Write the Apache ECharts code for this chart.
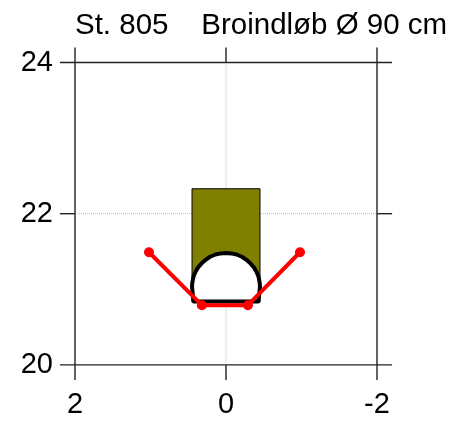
<!DOCTYPE html>
<html>
<head>
<meta charset="utf-8">
<style>html,body{margin:0;background:#fff}#chart{width:452px;height:423px}</style>
<script src="https://cdn.jsdelivr.net/npm/echarts@6/dist/echarts.min.js"></script>
</head>
<body>
<div id="chart"></div>
<script>
const titleText = 'St. 805    Broindløb Ø 90 cm';
const xTicks = [2, 0, -2];
const yTicks = [20, 22, 24];
const xRange = [-2.2, 2.2];
const yRange = [19.8, 24.2];

// oliven blok
const blockX = [0.45, 0.45, -0.45, -0.45];
const blockY = [20.83, 22.33, 22.33, 20.83];

// ledning
const pipeX = [0.43, 0.45, 0.447, 0.43, 0.405, 0.37, 0.325, 0.27, 0.21, 0.14, 0.07, 0, -0.07, -0.14, -0.21, -0.27, -0.325, -0.37, -0.405, -0.43, -0.447, -0.45, -0.43, 0.43];
const pipeY = [20.84, 21.03, 21.08, 21.17, 21.23, 21.29, 21.34, 21.39, 21.43, 21.46, 21.475, 21.48, 21.475, 21.46, 21.43, 21.39, 21.34, 21.29, 21.23, 21.17, 21.08, 21.03, 20.84, 20.84];

// rød kurve
const redX = [1.02, 0.32, -0.29, -0.98];
const redY = [21.49, 20.79, 20.79, 21.49];

const zip = (xs, ys) => xs.map((x, i) => [x, ys[i]]);

function polygon(points, fill, stroke, width, z) {
    return {
        type: 'custom',
        coordinateSystem: 'cartesian2d',
        z: z,
        silent: true,
        clip: false,
        data: points,
        encode: { x: 0, y: 1 },
        renderItem: (params, api) => {
            if (params.dataIndex !== 0) return null;
            return {
                type: 'polygon',
                shape: { points: points.map(p => api.coord(p)) },
                style: { fill: fill, stroke: stroke, lineWidth: width, lineJoin: 'round' }
            };
        }
    };
}

function line(points, color, width, type, z) {
    return {
        type: 'line',
        data: points,
        z: z,
        silent: true,
        clip: false,
        symbol: 'none',
        lineStyle: { color: color, width: width, type: type }
    };
}

const frame = [];
xTicks.forEach(x => {
    if (x === 0) {
        frame.push(line([[x, yTicks[0]], [x, yTicks[2]]], '#bbb', 1, [1, 1], 1));
        frame.push(line([[x, yRange[0]], [x, yTicks[0]]], '#222', 1.4, 'solid', 5));
        frame.push(line([[x, yTicks[2]], [x, yRange[1]]], '#222', 1.4, 'solid', 5));
    } else {
        frame.push(line([[x, yRange[0]], [x, yRange[1]]], '#222', 1.4, 'solid', 5));
    }
});
yTicks.forEach(y => {
    if (y === 22) {
        frame.push(line([[xTicks[0], y], [xTicks[2], y]], '#bbb', 1, [1, 1], 1));
        frame.push(line([[xRange[1], y], [xTicks[0], y]], '#222', 1.4, 'solid', 5));
        frame.push(line([[xTicks[2], y], [xRange[0], y]], '#222', 1.4, 'solid', 5));
    } else {
        frame.push(line([[xRange[0], y], [xRange[1], y]], '#222', 1.4, 'solid', 5));
    }
});

let myChart = echarts.init(document.getElementById('chart'));
myChart.setOption({
    animation: false,
    backgroundColor: '#fff',
    textStyle: { fontFamily: 'Liberation Sans' },
    title: {
        text: titleText,
        left: 75,
        top: 11,
        padding: 0,
        textStyle: { fontSize: 29.5, fontWeight: 'normal', color: '#000', fontFamily: 'Liberation Sans' }
    },
    grid: { left: 59.9, right: 59.9, top: 47.4, bottom: 43 },
    xAxis: {
        type: 'value',
        inverse: true,
        min: xRange[0],
        max: xRange[1],
        axisLine: { show: false },
        axisTick: { show: false },
        splitLine: { show: false },
        axisLabel: { customValues: xTicks, fontSize: 29, color: '#000', margin: 10, fontFamily: 'Liberation Sans', showMinLabel: true, showMaxLabel: true }
    },
    yAxis: {
        type: 'value',
        min: yRange[0],
        max: yRange[1],
        axisLine: { show: false },
        axisTick: { show: false },
        splitLine: { show: false },
        axisLabel: { customValues: yTicks, fontSize: 29, color: '#000', margin: 7, fontFamily: 'Liberation Sans' }
    },
    series: [
        ...frame,
        polygon(zip(blockX, blockY), '#808000', '#000', 1, 2),
        polygon(zip(pipeX, pipeY), '#fff', '#000', 4, 3),
        {
            type: 'line',
            data: zip(redX, redY),
            z: 6,
            silent: true,
            clip: false,
            symbol: 'circle',
            symbolSize: 10,
            itemStyle: { color: '#ff0000' },
            lineStyle: { color: '#ff0000', width: 4 }
        }
    ]
});
</script>
</body>
</html>
